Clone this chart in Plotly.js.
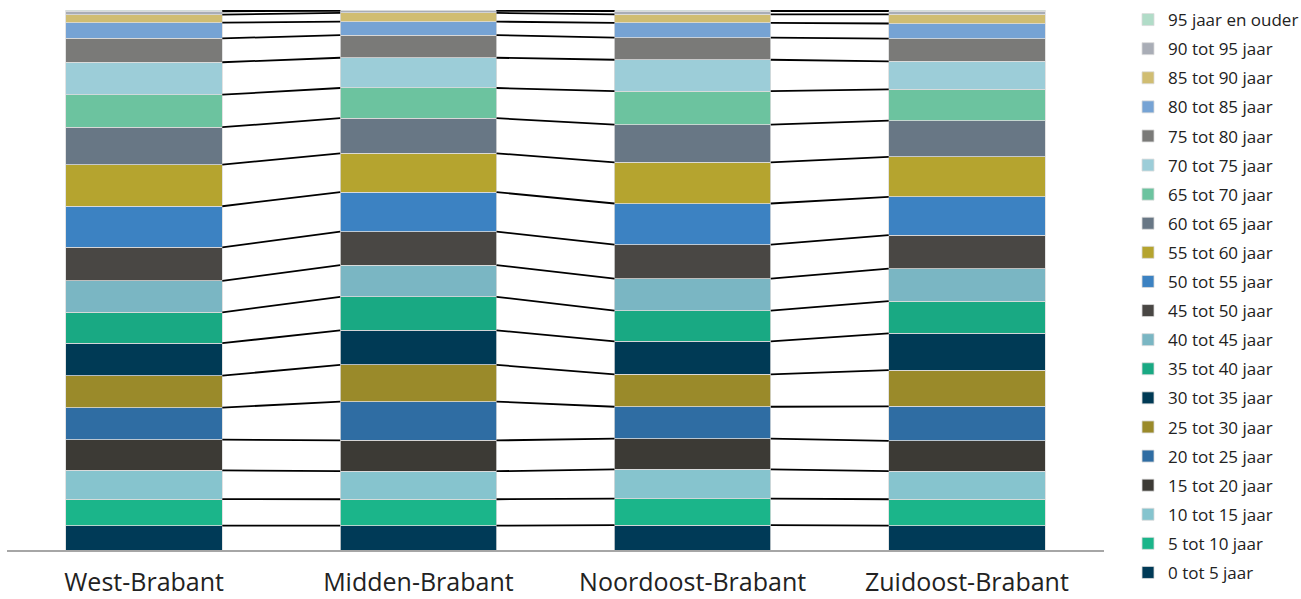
<!DOCTYPE html>
<html>
<head>
<meta charset="utf-8">
<script src="https://cdn.plot.ly/plotly-3.0.1.min.js"></script>
<style>html,body{margin:0;padding:0;background:#fff;}#chart{width:1301px;height:599px;}</style>
</head>
<body>
<div id="chart"></div>
<script>
var categories = ["West-Brabant", "Midden-Brabant", "Noordoost-Brabant", "Zuidoost-Brabant"];
var ageGroups = ["0 tot 5 jaar", "5 tot 10 jaar", "10 tot 15 jaar", "15 tot 20 jaar", "20 tot 25 jaar",
  "25 tot 30 jaar", "30 tot 35 jaar", "35 tot 40 jaar", "40 tot 45 jaar", "45 tot 50 jaar",
  "50 tot 55 jaar", "55 tot 60 jaar", "60 tot 65 jaar", "65 tot 70 jaar", "70 tot 75 jaar",
  "75 tot 80 jaar", "80 tot 85 jaar", "85 tot 90 jaar", "90 tot 95 jaar", "95 jaar en ouder"];
// share (%) per age group, in ageGroups order
var westBrabant      = [4.5, 4.9, 5.3, 5.7, 5.9, 5.9, 6.0, 5.7, 5.8, 6.2, 7.6, 7.7, 6.9, 6.0, 6.0, 4.4, 2.9, 1.5, 0.6, 0.25];
var middenBrabant    = [4.5, 4.9, 5.2, 5.7, 7.2, 6.8, 6.4, 6.2, 5.9, 6.2, 7.3, 7.2, 6.5, 5.6, 5.6, 4.2, 2.5, 1.6, 0.4, 0.15];
var noordoostBrabant = [4.6, 4.9, 5.4, 5.7, 5.9, 6.0, 6.1, 5.7, 5.9, 6.3, 7.6, 7.6, 7.0, 6.2, 5.8, 4.1, 2.7, 1.6, 0.6, 0.2];
var zuidoostBrabant  = [4.5, 4.9, 5.2, 5.6, 6.4, 6.7, 6.8, 6.0, 6.0, 6.2, 7.1, 7.4, 6.7, 5.8, 5.2, 4.2, 2.8, 1.7, 0.6, 0.2];
var colors = ["#003a57", "#1bb58a", "#86c4ce", "#3c3a35", "#2f6da3", "#9a8a2a", "#003a55", "#19a983",
  "#7ab6c3", "#494744", "#3c82c2", "#b5a42f", "#687785", "#6cc39f", "#9ccdd8", "#7a7a78",
  "#76a3d4", "#d0bd72", "#a9adb6", "#b1dcc8"];

var regions = [westBrabant, middenBrabant, noordoostBrabant, zuidoostBrabant];
var xpos = categories.map(function (c, i) { return i; });
var barWidth = 0.57;

var traces = [];
ageGroups.forEach(function (g, k) {
  traces.push({
    type: "bar",
    name: g,
    x: xpos,
    y: regions.map(function (r) { return r[k]; }),
    width: barWidth,
    marker: { color: colors[k], line: { color: "#dcdcdc", width: 0.8 } },
    legendgroup: g,
    legendrank: 1000 - k,
    hoverinfo: "name+y"
  });
});

// series lines connecting the top of each segment between neighbouring bars
var totals = regions.map(function (r) { return r.reduce(function (a, b) { return a + b; }, 0); });
var lx = [], ly = [];
ageGroups.forEach(function (g, k) {
  var cum = regions.map(function (r, i) {
    var s = 0; for (var j = 0; j <= k; j++) s += r[j];
    return s / totals[i] * 100;
  });
  for (var i = 0; i < regions.length - 1; i++) {
    lx.push(xpos[i] + barWidth / 2, xpos[i + 1] - barWidth / 2, null);
    ly.push(cum[i], cum[i + 1], null);
  }
});
traces.push({
  type: "scatter", mode: "lines", x: lx, y: ly,
  line: { color: "#000", width: 1.8 }, showlegend: false, hoverinfo: "skip", connectgaps: false
});

var layout = {
  width: 1301, height: 599,
  margin: { l: 7, r: 197, t: 10, b: 49, autoexpand: false },
  paper_bgcolor: "#fff", plot_bgcolor: "#fff",
  barmode: "stack", barnorm: "percent",
  font: { family: "'Open Sans', Lato, sans-serif", color: "#222" },
  xaxis: {
    range: [-0.5, 3.5], tickvals: xpos, ticktext: categories,
    showline: true, linecolor: "#a6a6a6", linewidth: 2,
    showgrid: false, zeroline: false, ticks: "",
    tickfont: { size: 25, color: "#222" }, ticklabelstandoff: 9, fixedrange: true
  },
  yaxis: {
    range: [0, 100], showticklabels: false, showgrid: false, zeroline: false,
    showline: false, ticks: "", fixedrange: true
  },
  showlegend: true,
  legend: {
    x: 1.0219, xanchor: "left", y: 1.0148, yanchor: "top",
    traceorder: "grouped", tracegroupgap: 4, maxheight: 600,
    font: { size: 17, color: "#222" }, bgcolor: "rgba(0,0,0,0)"
  }
};

Plotly.newPlot("chart", traces, layout, { displayModeBar: false, staticPlot: true });
</script>
</body>
</html>
